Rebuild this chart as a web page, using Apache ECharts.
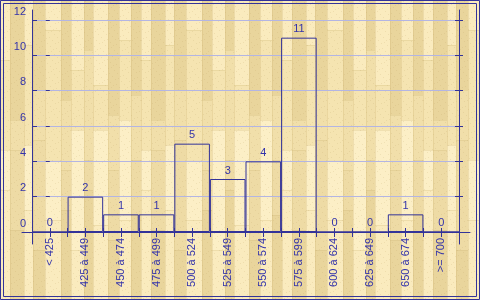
<!DOCTYPE html>
<html>
<head>
<meta charset="utf-8">
<script src="https://cdn.jsdelivr.net/npm/echarts@6/dist/echarts.min.js"></script>
<style>
html,body{margin:0;padding:0;}
#c{width:480px;height:300px;}
</style>
</head>
<body>
<div id="c"></div>
<script>
// ---- data ----
const categories = ['< 425','425 à 449','450 à 474','475 à 499','500 à 524','525 à 549','550 à 574','575 à 599','600 à 624','625 à 649','650 à 674','>= 700'];
const counts = [0, 2, 1, 1, 5, 3, 4, 11, 0, 0, 1, 0];
const yTicks = [0, 2, 4, 6, 8, 10, 12];

// ---- wood texture background (decoration only) ----
const plankShades = ['#faebbe','#eedba5','#f5e4b1','#e9d59c','#fcefc6','#f1dfaa'];
const colWidths = [10, 14, 9, 12, 16, 10, 13, 9, 15, 11, 12, 10];
const segLens = [[60,90,40,110],[120,30,80,70],[45,100,65,90],[90,50,110,50],[30,130,60,80],[100,70,40,90],[70,60,120,50],[50,110,30,110],[85,45,95,75],[115,55,70,60],[40,80,100,80],[95,65,55,85]];
const cv = document.createElement('canvas');
cv.width = colWidths.reduce((a, b) => a + b, 0); cv.height = 300;
const g = cv.getContext('2d');
let x0 = 0;
for (let c = 0; c < colWidths.length; c++) {
  let y = 0;
  const w = colWidths[c];
  segLens[c].forEach((len, j) => {
    g.fillStyle = plankShades[(c * 3 + j * 2) % plankShades.length];
    g.fillRect(x0, y, w, len);
    g.fillStyle = 'rgba(205,180,115,0.25)';
    g.fillRect(x0, y, w, 1);
    y += len;
  });
  g.fillStyle = 'rgba(205,180,115,0.28)';
  g.fillRect(x0, 0, 1, 300);
  x0 += w;
}
for (let i = 0; i < cv.width * 300; i += 5) {
  const px = (i * 37) % cv.width, py = Math.floor(i / cv.width);
  if ((px * 13 + py * 7) % 4 === 0) {
    g.fillStyle = 'rgba(190,160,100,0.18)';
    g.fillRect(px, py, 1, 1);
  }
}
const dom = document.getElementById('c');
dom.style.backgroundImage = 'url(' + cv.toDataURL() + ')';
dom.style.backgroundColor = '#f3e2ad';

const blue = '#333399';
const textBlue = '#3333aa';
const gridBlue = '#b3b5e3';
const font = 'Liberation Sans';

const tickAxisX = (inside, len) => ({
  type: 'value', gridIndex: 0, min: -0.5, max: 11.5, interval: 0.5, position: 'bottom',
  axisLine: {show: false}, axisLabel: {show: false}, splitLine: {show: false},
  axisTick: {show: true, inside: inside, length: len, lineStyle: {color: blue, width: 1}}
});
const tickAxisY = (pos, inside, len) => ({
  type: 'value', gridIndex: 0, min: 0, max: 12, interval: 2, position: pos,
  axisLine: {show: false}, axisLabel: {show: false}, splitLine: {show: false},
  axisTick: {show: true, inside: inside, length: len, lineStyle: {color: blue, width: 1}}
});

const chart = echarts.init(dom, null, {renderer: 'canvas'});
chart.setOption({
  backgroundColor: 'transparent',
  animation: false,
  grid: [
    {left: 32, right: 21, top: 20, bottom: 68},   // main plot
    {left: 32, right: 21, top: 10, bottom: 56},   // extended vertical axis lines
    {left: 22, right: 10, top: 20, bottom: 68}    // extended horizontal axis line
  ],
  xAxis: [
    {type: 'category', gridIndex: 0, data: categories, boundaryGap: true,
      axisLine: {show: false}, axisTick: {show: false}, splitLine: {show: false},
      axisLabel: {rotate: 90, interval: 0, margin: 6, color: textBlue, fontFamily: font, fontSize: 11}},
    tickAxisX(false, 5),
    tickAxisX(true, 4),
    {type: 'value', gridIndex: 2, min: 0, max: 1, position: 'bottom',
      axisLine: {show: true, lineStyle: {color: blue, width: 1}},
      axisTick: {show: false}, axisLabel: {show: false}, splitLine: {show: false}},
    {type: 'value', gridIndex: 1, show: false}
  ],
  yAxis: [
    {type: 'value', gridIndex: 0, min: 0, max: 12, interval: 2, position: 'left',
      axisLine: {show: false}, axisTick: {show: false},
      axisLabel: {show: true, margin: 6, color: textBlue, fontFamily: font, fontSize: 11,
        verticalAlign: 'bottom', padding: [0, 0, 3, 0],
        formatter: v => (yTicks.indexOf(v) >= 0 ? String(v) : '')},
      splitLine: {show: true, lineStyle: {color: gridBlue, width: 1}}},
    tickAxisY('left', false, 4),
    tickAxisY('left', true, 5),
    tickAxisY('right', false, 4),
    tickAxisY('right', true, 4),
    {type: 'value', gridIndex: 1, position: 'left',
      axisLine: {show: true, lineStyle: {color: blue, width: 1}},
      axisTick: {show: false}, axisLabel: {show: false}, splitLine: {show: false}},
    {type: 'value', gridIndex: 1, position: 'right',
      axisLine: {show: true, lineStyle: {color: blue, width: 1}},
      axisTick: {show: false}, axisLabel: {show: false}, splitLine: {show: false}},
    {type: 'value', gridIndex: 2, show: false}
  ],
  graphic: [
    {type: 'rect', shape: {x: 0.5, y: 0.5, width: 479, height: 299}, style: {fill: null, stroke: blue, lineWidth: 1}, silent: true},
    {type: 'rect', shape: {x: 3.5, y: 3.5, width: 473, height: 293}, style: {fill: null, stroke: blue, lineWidth: 1}, silent: true}
  ],
  series: [
    {type: 'bar', xAxisIndex: 0, yAxisIndex: 0, data: counts, barWidth: '100%', barGap: '0%',
      itemStyle: {color: 'rgba(0,0,0,0)', borderColor: blue, borderWidth: 1},
      label: {show: true, position: 'top', distance: 3, color: textBlue, fontFamily: font, fontSize: 11}}
  ]
});
</script>
</body>
</html>
